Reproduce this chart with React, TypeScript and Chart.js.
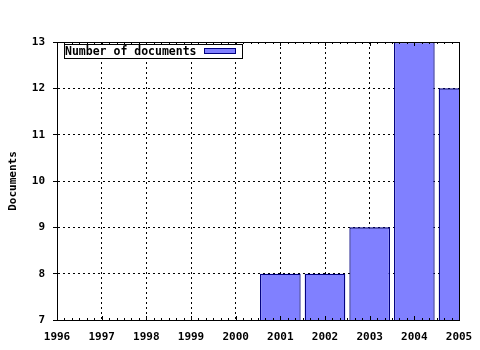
import React, { useEffect, useRef } from "react";
import { Chart, registerables } from "chart.js";

Chart.register(...registerables);

const years = ["1996", "1997", "1998", "1999", "2000", "2001", "2002", "2003", "2004", "2005"];
const documents: (number | null)[] = [null, null, null, null, null, 8, 8, 9, 13, 12];
const seriesLabel = "Number of documents";
const yTitle = "Documents";
const yMin = 7;
const yMax = 13;

const FONT = '"DejaVu Sans Mono", monospace';

const framePlugin = {
  id: "frame",
  afterDatasetsDraw(chart: any) {
    const { ctx, chartArea } = chart;
    const { left, right, top, bottom } = chartArea;
    ctx.save();
    ctx.strokeStyle = "#000";
    ctx.lineWidth = 1;
    ctx.setLineDash([]);
    ctx.beginPath();
    ctx.moveTo(left, top + 0.5);
    ctx.lineTo(right + 0.5, top + 0.5);
    ctx.moveTo(right + 0.5, top);
    ctx.lineTo(right + 0.5, bottom);
    // minor & major ticks on top and bottom
    const xs = chart.scales.x;
    const n = years.length;
    for (let i = 0; i < n; i++) {
      const px = Math.round(xs.getPixelForTick(i)) + 0.5;
      ctx.moveTo(px, bottom);
      ctx.lineTo(px, bottom - 4);
      ctx.moveTo(px, top);
      ctx.lineTo(px, top + 4);
      if (i < n - 1) {
        const nx = xs.getPixelForTick(i + 1);
        for (let k = 1; k < 6; k++) {
          const mx = Math.round(xs.getPixelForTick(i) + ((nx - xs.getPixelForTick(i)) * k) / 6) + 0.5;
          ctx.moveTo(mx, bottom);
          ctx.lineTo(mx, bottom - 2);
          ctx.moveTo(mx, top);
          ctx.lineTo(mx, top + 2);
        }
      }
    }
    ctx.stroke();

    // legend
    const lx = 64, ly = 44, lw = 178, lh = 14;
    ctx.fillStyle = "#fff";
    ctx.fillRect(lx, ly, lw, lh);
    ctx.strokeStyle = "#000";
    ctx.strokeRect(lx + 0.5, ly + 0.5, lw, lh);
    ctx.fillStyle = "#000";
    ctx.font = `bold 11.5px ${FONT}`;
    ctx.textBaseline = "middle";
    ctx.textAlign = "left";
    ctx.fillText(chart.data.datasets[0].label, lx + 1, ly + lh / 2 + 1);
    ctx.fillStyle = "#8080ff";
    ctx.fillRect(204, 48, 32, 6);
    ctx.strokeStyle = "#000080";
    ctx.strokeRect(204.5, 48.5, 31, 5);
    ctx.restore();
  },
};

export default function App() {
  const ref = useRef<HTMLCanvasElement>(null);
  useEffect(() => {
    if (!ref.current) return;
    const chart = new Chart(ref.current, {
      type: "bar",
      data: {
        labels: years,
        datasets: [
          {
            label: seriesLabel,
            data: documents,
            backgroundColor: "#8080ff",
            borderColor: "#000080",
            borderWidth: 1.3,
            borderSkipped: false,
            barPercentage: 0.91,
            categoryPercentage: 1,
          },
        ],
      },
      options: {
        animation: false,
        responsive: false,
        devicePixelRatio: 1,
        layout: { padding: { top: 42, right: 21, left: 0, bottom: 0 } },
        plugins: { legend: { display: false }, tooltip: { enabled: false } },
        scales: {
          x: {
            type: "category",
            offset: false,
            afterFit: (s: any) => {
              s.height = 30;
              s.paddingRight = 0;
              s.paddingLeft = 0;
            },
            grid: {
              color: "#000",
              lineWidth: 1,
              drawTicks: false,
              offset: false,
            },
            border: { display: true, color: "#000", width: 1, dash: [2, 3] },
            ticks: {
              color: "#000",
              font: { family: FONT, size: 11, weight: "bold" },
              padding: 11,
              maxRotation: 0,
              autoSkip: false,
            },
          },
          y: {
            min: yMin,
            max: yMax,
            afterFit: (s: any) => {
              s.width = 57;
              s.paddingTop = 0;
              s.paddingBottom = 0;
            },
            grid: {
              color: "#000",
              lineWidth: 1,
              drawTicks: true,
              tickLength: 4,
              tickColor: "#000",
              tickBorderDash: [],
            },
            border: { display: true, color: "#000", width: 1, dash: [2, 3] },
            ticks: {
              stepSize: 1,
              color: "#000",
              font: { family: FONT, size: 11, weight: "bold" },
              padding: 8,
            },
            title: {
              display: true,
              text: yTitle,
              color: "#000",
              font: { family: FONT, size: 11, weight: "bold" },
              padding: { top: 7, bottom: 0 },
            },
          },
        },
      },
      plugins: [framePlugin],
    } as any);
    return () => chart.destroy();
  }, []);
  return (
    <div style={{ position: "absolute", left: 0, top: 0, width: 480, height: 350, background: "#fff" }}>
      <canvas ref={ref} width={480} height={350} style={{ width: 480, height: 350 }} />
    </div>
  );
}
